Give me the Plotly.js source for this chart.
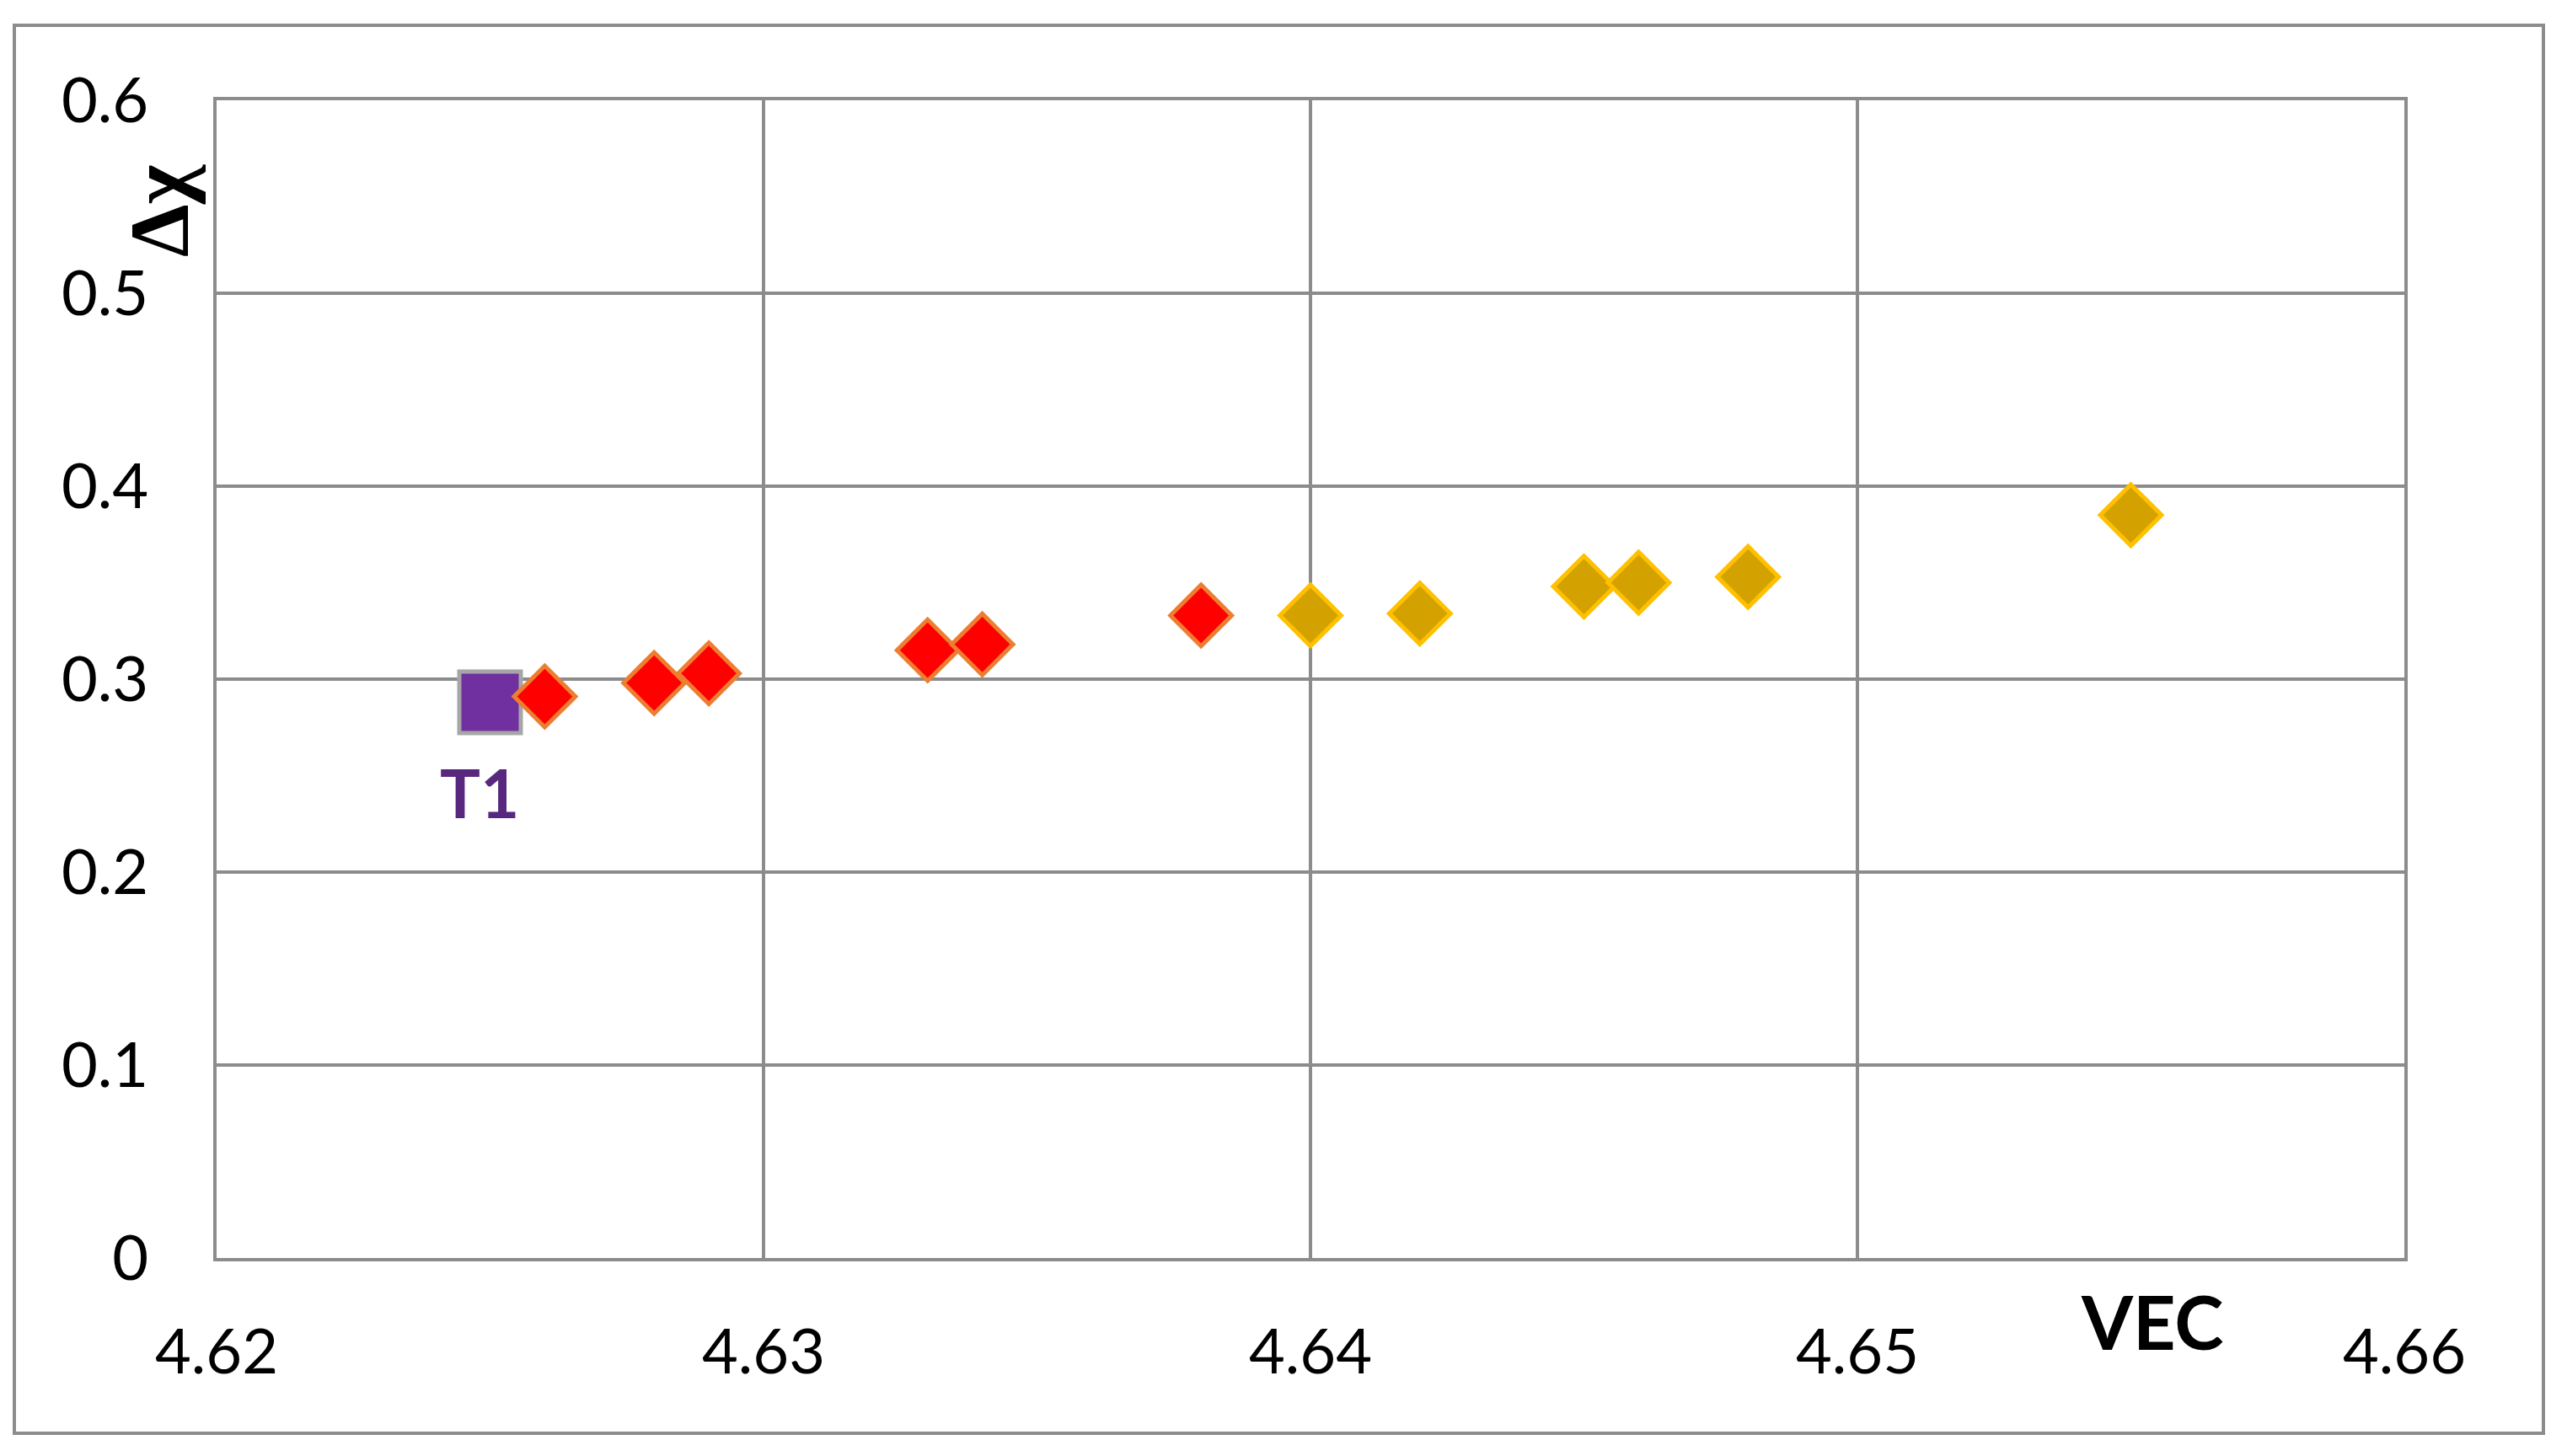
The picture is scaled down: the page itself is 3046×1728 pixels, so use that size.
<!DOCTYPE html>
<html>
<head>
<meta charset="utf-8">
<script src="https://cdn.plot.ly/plotly-3.0.1.min.js"></script>
<style>
  html, body { margin: 0; padding: 0; background: #ffffff; }
  #chart { width: 3046px; height: 1728px; }
</style>
</head>
<body>
<div id="chart"></div>
<script>
// ---- data ----
const t1VEC = [4.625];
const t1Chi = [0.288];
const t1Label = "T1";

const redVEC = [4.626, 4.628, 4.629, 4.633, 4.634, 4.638];
const redChi = [0.291, 0.298, 0.303, 0.315, 0.318, 0.333];

const goldVEC = [4.640, 4.642, 4.645, 4.646, 4.648, 4.655];
const goldChi = [0.333, 0.334, 0.348, 0.350, 0.353, 0.385];

const xTicks = [4.62, 4.63, 4.64, 4.65, 4.66];
const xTickText = ["4.62", "4.63", "4.64", "4.65", "4.66"];
const yTicks = [0, 0.1, 0.2, 0.3, 0.4, 0.5, 0.6];
const yTickText = ["0", "0.1", "0.2", "0.3", "0.4", "0.5", "0.6"];

const xTitle = "VEC";
const yTitle = "Δχ";

// ---- layout constants ----
const W = 3046, H = 1728;
const L = 257, R = 193, T = 119, B = 235;
const plotW = W - L - R, plotH = H - T - B;
const px = v => (v - L) / plotW;            // pixel x -> paper x
const py = v => (H - B - v) / plotH;         // pixel y -> paper y
const grid = "#8c8c8c";
const tickFont = { family: "Lato, 'Open Sans', sans-serif", size: 74, color: "#000000" };

const traces = [
  {
    type: "scatter", mode: "markers", x: t1VEC, y: t1Chi, name: "T1",
    marker: { symbol: "square", size: 73, color: "#7030a0", line: { color: "#a6a6a6", width: 5 } },
    hoverinfo: "x+y"
  },
  {
    type: "scatter", mode: "markers", x: redVEC, y: redChi, name: "red",
    marker: { symbol: "diamond", size: 56, color: "#ff0000", line: { color: "#ed7d31", width: 5 } },
    hoverinfo: "x+y"
  },
  {
    type: "scatter", mode: "markers", x: goldVEC, y: goldChi, name: "gold",
    marker: { symbol: "diamond", size: 56, color: "#d4a200", line: { color: "#ffc000", width: 5 } },
    hoverinfo: "x+y"
  }
];

const layout = {
  width: W, height: H,
  margin: { l: L, r: R, t: T, b: B, pad: 0 },
  paper_bgcolor: "#ffffff", plot_bgcolor: "#ffffff",
  showlegend: false,
  xaxis: {
    range: [4.62, 4.66], tickvals: xTicks, ticktext: xTickText,
    showgrid: true, gridcolor: grid, gridwidth: 4,
    showline: true, linecolor: grid, linewidth: 4, mirror: true,
    zeroline: false, ticks: "", tickfont: tickFont,
    ticklabelstandoff: 44
  },
  yaxis: {
    range: [0, 0.6], tickvals: yTicks, ticktext: yTickText,
    showgrid: true, gridcolor: grid, gridwidth: 4,
    showline: true, linecolor: grid, linewidth: 4, mirror: true,
    zeroline: false, ticks: "", tickfont: tickFont,
    ticklabelstandoff: 62
  },
  shapes: [
    {
      type: "rect", xref: "paper", yref: "paper",
      x0: px(17), x1: px(3018), y0: py(1701), y1: py(30),
      line: { color: grid, width: 4 }, fillcolor: "rgba(0,0,0,0)", layer: "below"
    }
  ],
  annotations: [
    {
      text: "<b>" + yTitle + "</b>", xref: "paper", yref: "paper",
      x: px(190), y: py(250), xanchor: "center", yanchor: "middle",
      textangle: -90, showarrow: false,
      font: { family: "'Liberation Serif', 'DejaVu Serif', serif", size: 100, color: "#000000" }
    },
    {
      text: "<b>" + xTitle + "</b>", xref: "paper", yref: "paper",
      x: px(2554), y: py(1568), xanchor: "center", yanchor: "middle",
      showarrow: false,
      font: { family: "Lato, 'Open Sans', sans-serif", size: 88, color: "#000000" }
    },
    {
      text: "<b>" + t1Label + "</b>", xref: "x", yref: "y",
      x: t1VEC[0], y: t1Chi[0], xshift: -13, yshift: -107,
      xanchor: "center", yanchor: "middle", showarrow: false,
      font: { family: "Lato, 'Open Sans', sans-serif", size: 80, color: "#58287f" }
    }
  ]
};

Plotly.newPlot("chart", traces, layout, { staticPlot: true, displayModeBar: false });
</script>
</body>
</html>
